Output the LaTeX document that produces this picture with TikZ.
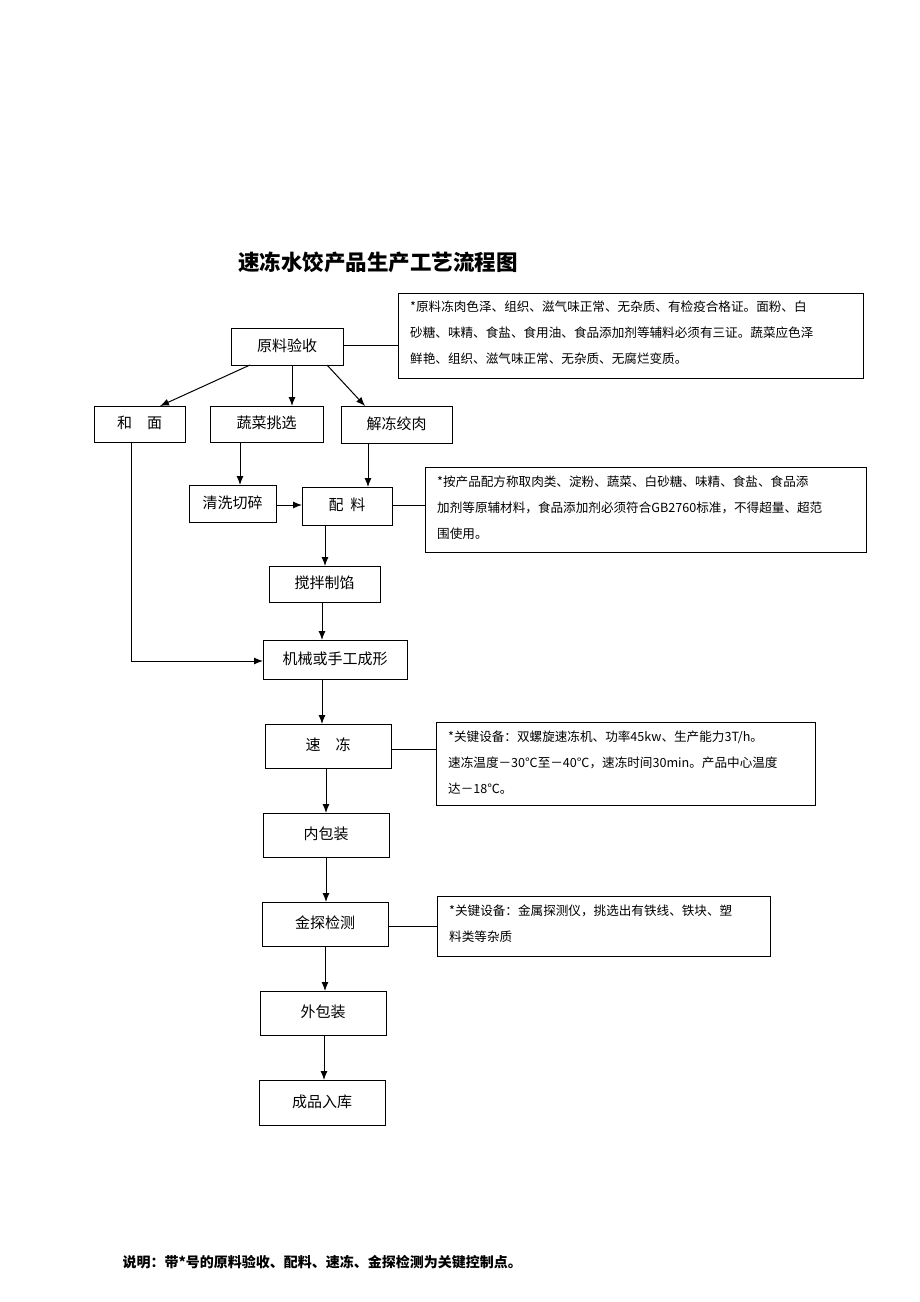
\documentclass[tikz,border=0pt]{standalone}
\usepackage{fontspec}
\setmainfont{Noto Sans CJK SC}
\usetikzlibrary{arrows.meta}
\begin{document}
\begin{tikzpicture}[x=1pt,y=-1pt,
  box/.style={draw,line width=1pt,inner sep=0pt},
  note/.style={draw,line width=1pt,inner sep=0pt},
  ntext/.style={anchor=north west,align=left,font=\fontsize{12.6}{26}\selectfont,inner sep=0pt},
  arr/.style={-{Latex[length=9pt,width=7pt]},line width=1pt},
  ln/.style={line width=1pt}]
\useasboundingbox (0,0) rectangle (920,1302);
\def\bx#1#2#3#4#5#6{\draw[box] (#2,#3) rectangle (#4,#5); \node[font=\fontsize{15}{17}\selectfont] (#1) at ({(#2+#4)/2},{(#3+#5)/2-1}) {#6};}
\bx{a}{231}{328}{343}{365}{原料验收}
\bx{b}{94}{406}{185}{442}{和\quad 面}
\bx{c}{210}{406}{323}{442}{蔬菜挑选}
\bx{d}{341}{406}{452}{443}{解冻绞肉}
\bx{e}{189}{485}{276}{522}{清洗切碎}
\bx{f}{302}{487}{392}{525}{配\ \ 料}
\bx{g}{269}{566}{380}{602}{搅拌制馅}
\bx{h}{263}{640}{407}{679}{机械或手工成形}
\bx{i}{265}{724}{391}{768}{速\quad 冻}
\bx{j}{263}{813}{389}{857}{内包装}
\bx{k}{262}{902}{388}{946}{金探检测}
\bx{l}{260}{991}{386}{1035}{外包装}
\bx{m}{259}{1080}{385}{1125}{成品入库}
\node[font=\bfseries\fontsize{21.5}{24}\selectfont] (t) at (378,262) {速冻水饺产品生产工艺流程图};
\node[anchor=west,font=\bfseries\fontsize{14}{16}\selectfont] (ft) at (119,1262) {说明：带*号的原料验收、配料、速冻、金探检测为关键控制点。};
\draw[note] (398,293) rectangle (863,378);
\node[ntext] (n1) at (410,301) {*原料冻肉色泽、组织、滋气味正常、无杂质、有检疫合格证。面粉、白\\砂糖、味精、食盐、食用油、食品添加剂等辅料必须有三证。蔬菜应色泽\\鲜艳、组织、滋气味正常、无杂质、无腐烂变质。};
\draw[note] (425,467) rectangle (866,552);
\node[ntext] (n2) at (437,476) {*按产品配方称取肉类、淀粉、蔬菜、白砂糖、味精、食盐、食品添\\加剂等原辅材料，食品添加剂必须符合GB2760标准，不得超量、超范\\围使用。};
\draw[note] (436,722) rectangle (815,805);
\node[ntext] (n3) at (448,731) {*关键设备：双螺旋速冻机、功率45kw、生产能力3T/h。\\速冻温度－30℃至－40℃，速冻时间30min。产品中心温度\\达－18℃。};
\draw[note] (437,896) rectangle (770,956);
\node[ntext] (n4) at (449,905) {*关键设备：金属探测仪，挑选出有铁线、铁块、塑\\料类等杂质};
\draw[ln] (343,345) -- (398,345);
\draw[ln] (392,505) -- (425,505);
\draw[ln] (391,749) -- (436,749);
\draw[ln] (388,926) -- (437,926);
\draw[arr] (250,365) -- (160,406);
\draw[arr] (292,365) -- (292,406);
\draw[arr] (327,365) -- (365,406);
\draw[arr] (240,442) -- (240,485);
\draw[arr] (368,443) -- (368,487);
\draw[arr] (276,505) -- (302,505);
\draw[arr] (325,525) -- (325,566);
\draw[arr] (322,602) -- (322,640);
\draw[arr] (131,442) -- (131,661) -- (263,661);
\draw[arr] (322,679) -- (322,724);
\draw[arr] (326,768) -- (326,813);
\draw[arr] (326,857) -- (326,902);
\draw[arr] (325,946) -- (325,991);
\draw[arr] (324,1035) -- (324,1080);
\end{tikzpicture}
\end{document}
